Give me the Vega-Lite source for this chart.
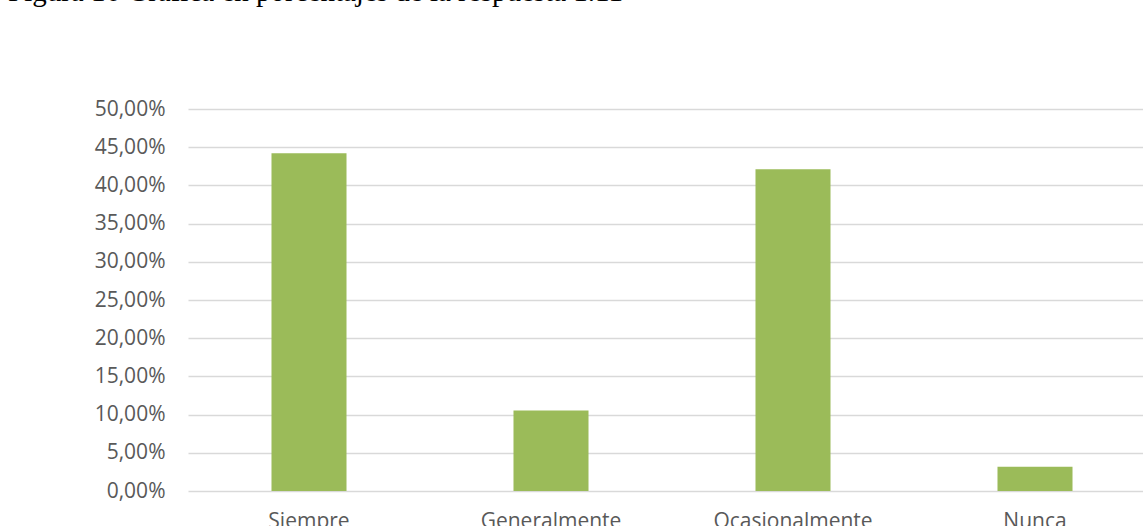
{
  "$schema": "https://vega.github.io/schema/vega-lite/v6.json",
  "width": 968,
  "height": 382,
  "autosize": "none",
  "padding": {"left": 188, "top": 109, "right": 0, "bottom": 35},
  "background": "white",
  "config": {
    "locale": {"number": {"decimal": ",", "thousands": ".", "grouping": [3], "currency": ["", " €"]}},
    "view": {"stroke": null}
  },
  "title": {
    "text": "Figura 16 Gráfica en porcentajes de la respuesta 1.11",
    "anchor": "start",
    "frame": "group",
    "font": "Liberation Serif",
    "fontSize": 29,
    "fontWeight": "normal",
    "color": "black",
    "baseline": "alphabetic",
    "offset": 68,
    "dx": -180
  },
  "data": {
    "values": [
      {"respuesta": "Siempre", "porcentaje": 0.4421},
      {"respuesta": "Generalmente", "porcentaje": 0.1053},
      {"respuesta": "Ocasionalmente", "porcentaje": 0.4211},
      {"respuesta": "Nunca", "porcentaje": 0.0316}
    ]
  },
  "mark": {"type": "bar", "color": "#9bbb59"},
  "encoding": {
    "x": {
      "field": "respuesta",
      "type": "nominal",
      "sort": null,
      "scale": {"paddingInner": 0.69, "paddingOuter": 0.345},
      "axis": {
        "title": null,
        "labelAngle": 0,
        "labelFont": "Open Sans",
        "labelFontSize": 21,
        "labelColor": "#595959",
        "labelPadding": 19.5,
        "domain": false,
        "ticks": false
      }
    },
    "y": {
      "field": "porcentaje",
      "type": "quantitative",
      "scale": {"domain": [0, 0.5]},
      "axis": {
        "title": null,
        "format": ".2%",
        "values": [0, 0.05, 0.1, 0.15, 0.2, 0.25, 0.3, 0.35, 0.4, 0.45, 0.5],
        "labelFont": "Open Sans",
        "labelFontSize": 21,
        "labelColor": "#595959",
        "labelPadding": 23,
        "domain": false,
        "ticks": false,
        "grid": true,
        "gridColor": "#d9d9d9",
        "gridWidth": 1.5
      }
    }
  }
}
